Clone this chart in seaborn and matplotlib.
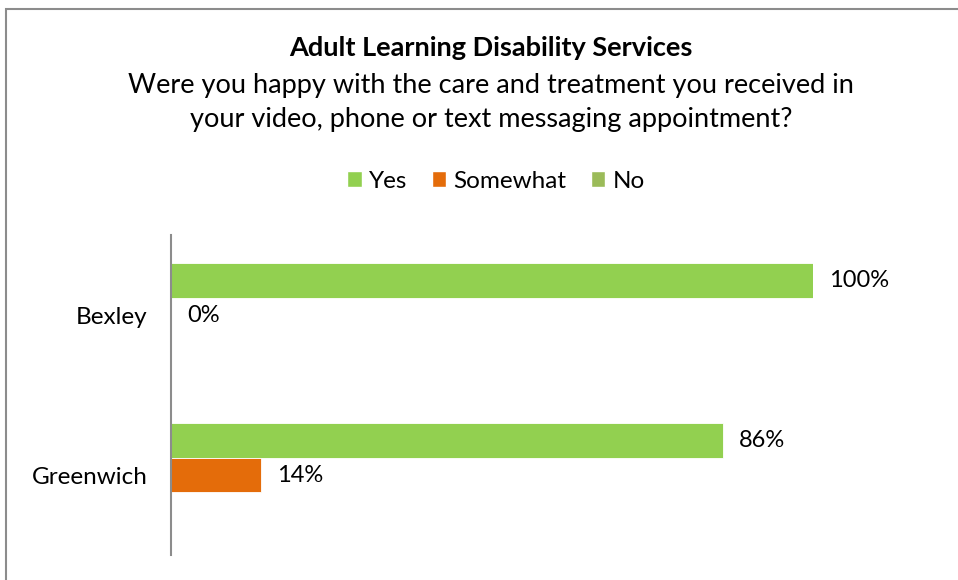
import pandas as pd
import matplotlib.pyplot as plt
import seaborn as sns
from matplotlib.patches import Rectangle, Patch

# Data
areas = ["Bexley", "Greenwich"]
answers = ["Yes", "Somewhat", "No"]
yes_pct = [100, 86]
somewhat_pct = [0, 14]
no_pct = [None, None]

colors = {"Yes": "#92D050", "Somewhat": "#E46C0A", "No": "#9BBB59"}

rows = []
for i, area in enumerate(areas):
    rows.append({"Area": area, "Answer": "Yes", "Pct": yes_pct[i]})
    rows.append({"Area": area, "Answer": "Somewhat", "Pct": somewhat_pct[i]})
    rows.append({"Area": area, "Answer": "No", "Pct": no_pct[i]})
df = pd.DataFrame(rows)

sns.set_style("white")
plt.rcParams["font.family"] = ["Lato", "DejaVu Sans"]
plt.rcParams["text.color"] = "black"
plt.rcParams["ytick.color"] = "black"

fig = plt.figure(figsize=(9.58, 5.80), dpi=100)
ax = fig.add_axes([171 / 958, 25 / 580, (813 - 171) / 958, 320 / 580])

sns.barplot(
    data=df.dropna(),
    y="Area",
    x="Pct",
    hue="Answer",
    hue_order=answers,
    order=areas,
    palette=colors,
    saturation=1,
    orient="h",
    width=0.655,
    edgecolor="white",
    linewidth=0.6,
    legend=False,
    ax=ax,
)

# Data labels
for cont in ax.containers:
    labels = [f"{v:.0f}%" for v in cont.datavalues]
    ax.bar_label(cont, labels=labels, padding=11.5, fontsize=17, color="black")

ax.set_xlim(0, 100)
ax.set_ylim(1.5, -0.5)
ax.set_xlabel("")
ax.set_ylabel("")
ax.set_xticks([])
ax.tick_params(axis="y", length=0, labelsize=17.5, pad=17, labelcolor="black")
for side in ["top", "right", "bottom"]:
    ax.spines[side].set_visible(False)
ax.spines["left"].set_color("#8c8c8c")
ax.spines["left"].set_linewidth(1.5)

# Titles
cx = 491 / 958
fig.text(cx, 1 - 48 / 580, "Adult Learning Disability Services",
         ha="center", va="center", fontsize=19.5, fontweight="bold")
fig.text(cx, 1 - 86 / 580, "Were you happy with the care and treatment you received in",
         ha="center", va="center", fontsize=19.5)
fig.text(cx, 1 - 120 / 580, "your video, phone or text messaging appointment?",
         ha="center", va="center", fontsize=19.5)

# Legend
handles = [Patch(facecolor=colors[a], label=a) for a in answers]
fig.legend(handles=handles, loc="center", bbox_to_anchor=(496 / 958, 1 - 181 / 580),
           ncol=3, frameon=False, fontsize=17.5, handlelength=0.6, handleheight=0.6,
           handletextpad=0.3, columnspacing=1.0)

# Chart border
fig.patches.append(Rectangle((6 / 958, -0.1), 1.2, 1.1 - 9.5 / 580,
                             transform=fig.transFigure, fill=False,
                             edgecolor="#8c8c8c", linewidth=1.5))

fig.savefig("out.png", dpi=100)
